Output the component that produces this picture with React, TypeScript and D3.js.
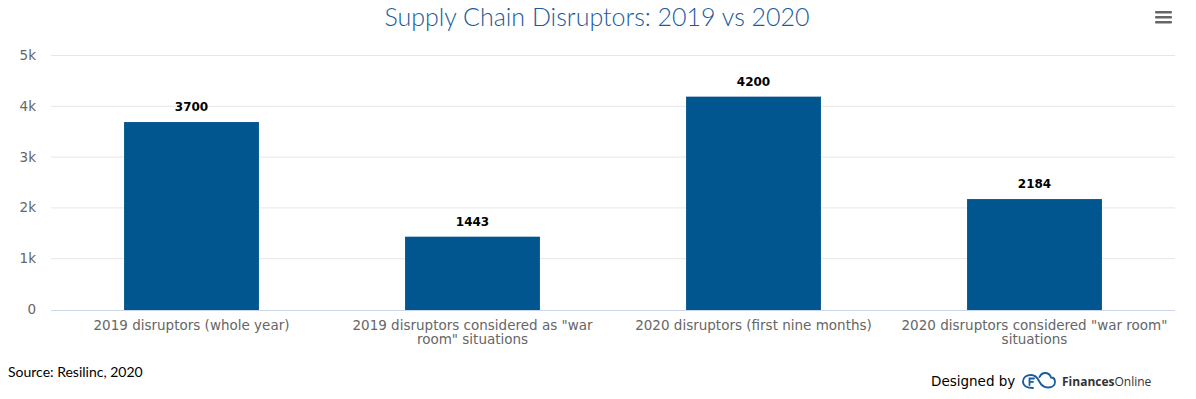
import React from 'react';
import * as d3 from 'd3';

const categories = [
  '2019 disruptors (whole year)',
  '2019 disruptors considered as "war room" situations',
  '2020 disruptors (first nine months)',
  '2020 disruptors considered "war room" situations',
];
const labelLines = [
  ['2019 disruptors (whole year)'],
  ['2019 disruptors considered as "war', 'room" situations'],
  ['2020 disruptors (first nine months)'],
  ['2020 disruptors considered "war room"', 'situations'],
];
const values = [3700, 1443, 4200, 2184];
const yTicks = [0, 1000, 2000, 3000, 4000, 5000];
const yTickLabels = ['0', '1k', '2k', '3k', '4k', '5k'];

const W = 1196;
const H = 399;
const margin = { top: 56, right: 21, bottom: 89, left: 51 };

const App = () => {
  const innerW = W - margin.left - margin.right;
  const innerH = H - margin.top - margin.bottom;

  const x = d3.scaleBand().domain(categories).range([0, innerW]).paddingInner(0.52).paddingOuter(0.26);
  const y = d3.scaleLinear().domain([0, 5000]).range([innerH, 0]);

  const axisFont = '"DejaVu Sans", Verdana, sans-serif';

  return (
    <svg width={W} height={H} style={{ display: 'block', marginTop: -8, marginLeft: -8 }}>
      <rect width={W} height={H} fill="#fff" />
      <text x={597} y={26} textAnchor="middle" fontFamily="Lato, sans-serif" fontWeight={300}
        fontSize={25} fill="#1a5b9b">
        Supply Chain Disruptors: 2019 vs 2020
      </text>
      {/* menu icon */}
      <g fill="#666">
        {[0, 1, 2].map(i => (
          <rect key={i} x={1155} y={11 + i * 5} width={17} height={2.6} rx={1} />
        ))}
      </g>
      <g transform={`translate(${margin.left},${margin.top})`}>
        {yTicks.map((t, i) => (
          <g key={t}>
            {t > 0 && <line x1={0} x2={innerW} y1={y(t) - 0.5} y2={y(t) - 0.5} stroke="#e6e6e6" />}
            <text x={-15} y={y(t) + 4} textAnchor="end" fontFamily={axisFont} fontSize={13.5} fill="#666">
              {yTickLabels[i]}
            </text>
          </g>
        ))}
        {categories.map((c, i) => (
          <g key={c}>
            <rect x={x(c)} y={y(values[i])} width={x.bandwidth()} height={innerH - y(values[i])} fill="#02568f" />
            <text x={x(c)! + x.bandwidth() / 2} y={y(values[i]) - 11} textAnchor="middle"
              fontFamily={axisFont} fontWeight="bold" fontSize={12} fill="#000"
              stroke="#fff" strokeWidth={2} paintOrder="stroke">
              {values[i]}
            </text>
            {labelLines[i].map((ln, j) => (
              <text key={j} x={x(c)! + x.bandwidth() / 2} y={innerH + 20 + j * 14} textAnchor="middle"
                fontFamily={axisFont} fontSize={13.5} fill="#666">
                {ln}
              </text>
            ))}
          </g>
        ))}
        <line x1={0} x2={innerW} y1={innerH + 0.5} y2={innerH + 0.5} stroke="#ccd6eb" />
      </g>
      <text x={8} y={377} fontFamily="Lato, sans-serif" fontSize={14} fill="#000">Source: Resilinc, 2020</text>
      <g>
        <text x={931} y={386} fontFamily={axisFont} fontSize={13.5} fill="#000">Designed by</text>
        <g transform="translate(1022,372)" fill="none" stroke="#1a5b9b" strokeWidth={1.8} strokeLinecap="round">
          <path d="M11,16 C5,16 1,14 1,9.5 C1,5 5,3 9,3 C13,3 15,5 17,9 C19,13 21,15.5 26,15.5 C30.5,15.5 33,13 33,10 C33,7 31,5.5 29,5.5 C28,2 25,1 23,1 C20,1 18.5,3 17.5,5" />
          <path d="M7.5,13 L7.5,6.5 L12,6.5 M7.5,9.8 L11,9.8" />
        </g>
        <text x={1062} y={386} fontFamily="'Open Sans', sans-serif" fontSize={12} fill="#333">
          <tspan fontWeight="bold">Finances</tspan>
          <tspan>Online</tspan>
        </text>
      </g>
    </svg>
  );
};

export default App;
